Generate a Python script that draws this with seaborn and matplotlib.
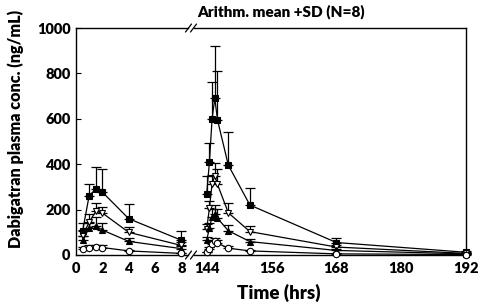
import matplotlib
matplotlib.use("Agg")
import matplotlib.pyplot as plt
import seaborn as sns
import numpy as np
import pandas as pd

sns.set_theme(style="white")
plt.rcParams['font.family'] = ['Lato', 'DejaVu Sans']
plt.rcParams['font.weight'] = 'heavy'

# ---- data ----
t_first = [0.5, 1, 1.5, 2, 4, 8]
t_ss = [144, 144.5, 145, 145.5, 146, 148, 152, 168, 192]

sq_first = [105, 262, 290, 277, 160, 65]
sq_first_sd = [35, 50, 98, 100, 64, 40]
sq_ss = [270, 408, 600, 690, 595, 396, 220, 55, 12]
sq_ss_sd = [78, 85, 160, 230, 215, 145, 75, 18, 5]

tv_first = [85, 145, 192, 185, 100, 42]
tv_first_sd = [25, 35, 35, 25, 22, 15]
tv_ss = [113, 206, 313, 350, 311, 186, 103, 35, 7]
tv_ss_sd = [25, 30, 40, 55, 70, 45, 25, 8, 3]

tu_first = [68, 118, 128, 110, 60, 28]
tu_first_sd = [15, 25, 40, 30, 15, 10]
tu_ss = [66, 118, 169, 180, 162, 107, 59, 20, 5]
tu_ss_sd = [15, 25, 35, 42, 40, 25, 12, 5, 2]

ci_first = [25, 33, 35, 33, 18, 7]
ci_first_sd = [10, 10, 10, 10, 6, 3]
ci_ss = [12, 25, 50, 60, 52, 30, 18, 5, 2]
ci_ss_sd = [3, 10, 12, 15, 12, 8, 5, 2, 1]

series = [
    ("sq", "s", "black", sq_first, sq_first_sd, sq_ss, sq_ss_sd),
    ("tv", "v", "white", tv_first, tv_first_sd, tv_ss, tv_ss_sd),
    ("tu", "^", "black", tu_first, tu_first_sd, tu_ss, tu_ss_sd),
    ("ci", "o", "white", ci_first, ci_first_sd, ci_ss, ci_ss_sd),
]

W, H = 482, 306
fig = plt.figure(figsize=(W / 100, H / 100), dpi=100)
axL = fig.add_axes([76 / W, 1 - 255 / H, 112 / W, 227 / H])
axR = fig.add_axes([194 / W, 1 - 255 / H, 272 / W, 227 / H])

for name, mk, fc, yf, sf, ys, ss in series:
    for ax, t, y, s in ((axL, t_first, yf, sf), (axR, t_ss, ys, ss)):
        df = pd.DataFrame({"t": t, "v": y})
        ax.errorbar(t, y, yerr=[np.zeros(len(s)), s], fmt='none', ecolor='black',
                    elinewidth=0.9, capsize=3.5, capthick=0.9, zorder=2, clip_on=False)
        sns.lineplot(data=df, x="t", y="v", ax=ax, color="black", linewidth=0.9,
                     marker=mk, markersize=5 if mk != "o" else 4.6,
                     markerfacecolor=fc, markeredgecolor="black", markeredgewidth=0.8,
                     zorder=3, clip_on=False)

for ax in (axL, axR):
    ax.set_ylim(0, 1000)
    ax.set_xlabel("")
    ax.set_ylabel("")
    for sp in ax.spines.values():
        sp.set_color("black")
        sp.set_linewidth(1.0)

axL.set_xlim(0, 8.5)
axR.set_xlim(141.65, 192)
axL.spines['right'].set_visible(False)
axR.spines['left'].set_visible(False)

axL.set_xticks([0, 2, 4, 6, 8])
axL.set_xticks(np.arange(1, 9, 1), minor=True)
axL.set_yticks([0, 200, 400, 600, 800, 1000])
axL.set_yticks(np.arange(100, 1000, 200), minor=True)
axR.set_xticks([144, 156, 168, 180, 192])
axR.set_xticks([150, 162, 174, 186], minor=True)
axR.set_yticks([])

for ax in (axL, axR):
    ax.tick_params(axis='both', which='major', direction='in', length=3.5, width=0.8,
                   labelsize=10.5, colors='black', top=False, right=False)
    ax.tick_params(axis='both', which='minor', direction='in', length=2.2, width=0.7,
                   top=False, right=False)
    ax.tick_params(axis='x', pad=5)
    ax.tick_params(axis='y', pad=4, left=(ax is axL))
    for lab in ax.get_xticklabels() + ax.get_yticklabels():
        lab.set_fontweight('heavy')

# break marks
def brk(xc, yc):
    for dx in (-2.5, 2.5):
        x0 = (xc + dx - 3) / W
        x1 = (xc + dx + 3) / W
        y0 = 1 - (yc + 4) / H
        y1 = 1 - (yc - 4) / H
        fig.add_artist(plt.Line2D([x0, x1], [y0, y1], color='black', lw=0.9))

brk(191, 255)
brk(191, 28)

fig.text(281 / W, 1 - 12 / H, "Arithm. mean +SD (N=8)", ha='center', va='center',
         fontsize=11, fontweight='heavy', color='black')
fig.text(279 / W, 1 - 293 / H, "Time (hrs)", ha='center', va='center',
         fontsize=13.5, fontweight='heavy', color='black')
fig.text(16 / W, 1 - 129 / H, "Dabigatran plasma conc. (ng/mL)", ha='center', va='center',
         rotation=90, fontsize=11.6, fontweight='heavy', color='black')

fig.savefig("out.png", dpi=100)
